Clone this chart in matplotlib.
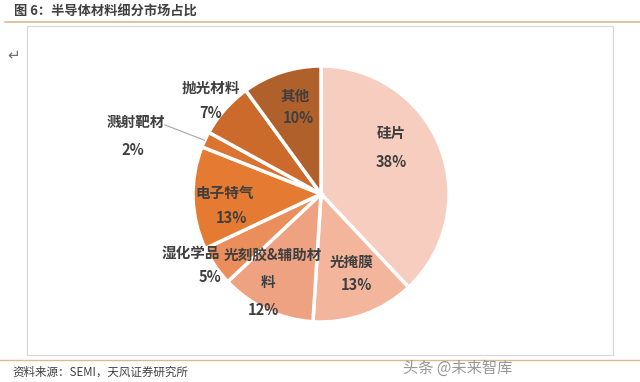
import numpy as np
import matplotlib
matplotlib.use("Agg")
import matplotlib.pyplot as plt
from matplotlib.patches import Rectangle
from matplotlib.lines import Line2D

plt.rcParams["font.family"] = ["Noto Sans CJK SC", "DejaVu Sans"]

# ---------- Data ----------
labels = ["硅片", "光掩膜", "光刻胶&辅助材|料", "湿化学品", "电子特气", "溅射靶材", "抛光材料", "其他"]
shares = [38, 13, 12, 5, 13, 2, 7, 10]
colors = ["#F6CDBE", "#F3B69C", "#EFA282", "#EA8E5C", "#E57A32",
          "#DB7431", "#CB6A2B", "#B0602A"]

TITLE = "图 6：半导体材料细分市场占比"
SOURCE = "资料来源：SEMI，天风证券研究所"
WATERMARK = "头条 @未来智库"

# label / percent centres, in pie radius units (style, not data)
label_xy = [(0.55, 0.48), (0.24, -0.53), (-0.38, -0.48), (-1.02, -0.46),
            (-0.75, 0.01), (-1.45, 0.56), (-0.86, 0.83), (-0.20, 0.77)]
pct_xy = [(0.55, 0.25), (0.28, -0.71), (-0.45, -0.91), (-0.87, -0.65),
          (-0.70, -0.19), (-1.47, 0.34), (-0.86, 0.63), (-0.18, 0.59)]
LINE_STEP = 0.205  # second line of a wrapped label

W, H = 640, 382
fig = plt.figure(figsize=(W / 100, H / 100), dpi=100)

# ---------- Page decorations ----------
fig.add_artist(Line2D([5 / W, 1], [1 - 22 / H] * 2, color="#D9B894", lw=1.2))
fig.add_artist(Rectangle((27 / W, 1 - 355 / H), (613 - 27) / W, (355 - 26) / H,
                         fill=False, ec="#D8D8D8", lw=0.9))
fig.add_artist(Line2D([0, 1], [1 - 360 / H] * 2, color="#D9B894", lw=1.0))
fig.text(14 / W, 1 - 11 / H, TITLE, fontsize=9.5, fontweight="bold",
         color="#404040", va="center", ha="left")
fig.text(14 / W, 1 - 55 / H, "↵", fontsize=11, color="#707070",
         va="center", ha="center", family=["DejaVu Sans"])
fig.text(12 / W, 1 - 372 / H, SOURCE, fontsize=8.3, color="#404040",
         va="center", ha="left")
fig.text(512 / W, 1 - 368 / H, WATERMARK, fontsize=11, color="#7F7F7F",
         alpha=0.8, va="center", ha="right")

# ---------- Pie ----------
R = 128
cx, cy = 321, 194
ax = fig.add_axes([(cx - R) / W, 1 - (cy + R) / H, 2 * R / W, 2 * R / H])
ax.pie(shares, colors=colors, startangle=90, counterclock=False, radius=1,
       wedgeprops=dict(edgecolor="white", linewidth=2.5))
ax.set_xlim(-1, 1)
ax.set_ylim(-1, 1)
ax.set_aspect("equal")
ax.axis("off")

txt_kw = dict(ha="center", va="center", fontsize=10.5, fontweight="bold",
              color="#3F3F3F", clip_on=False)
for lab, val, (lx, ly), (px, py) in zip(labels, shares, label_xy, pct_xy):
    parts = lab.split("|")
    ax.text(lx, ly, parts[0], **txt_kw)
    if len(parts) > 1:
        ax.text(lx - 0.03, ly - LINE_STEP, parts[1], **txt_kw)
    ax.text(px, py, f"{val}%", **txt_kw)

# leader line for the small slice
ax.plot([-1.22, -0.91], [0.54, 0.42], color="#A6A6A6", lw=0.8, clip_on=False)

fig.savefig("out.png", dpi=100)
